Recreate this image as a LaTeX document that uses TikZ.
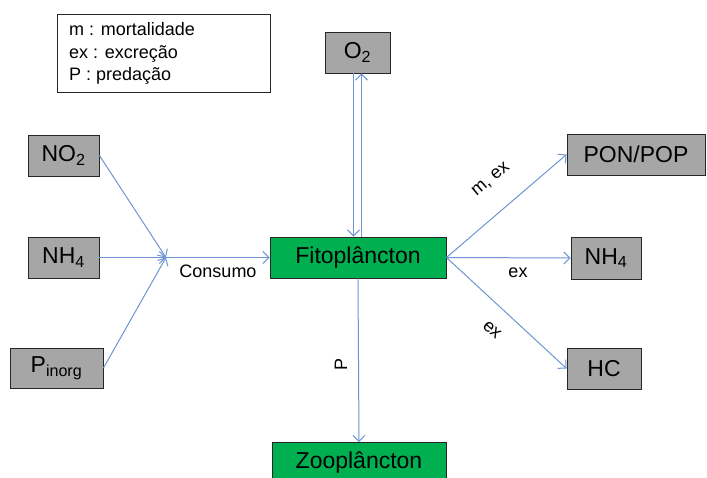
\documentclass[tikz,border=0pt]{standalone}
\usepackage{fontspec}
\setmainfont{Liberation Sans}
\usetikzlibrary{arrows.meta}
\definecolor{boxgray}{RGB}{166,166,166}
\definecolor{boxgreen}{RGB}{0,176,80}
\definecolor{flowblue}{RGB}{110,150,210}
\begin{document}
\begin{tikzpicture}[x=1pt,y=-1pt,
  box/.style={draw=black!85, line width=0.9pt, minimum height=41pt, inner sep=0pt, font=\fontsize{23}{27}\selectfont},
  graybox/.style={box, fill=boxgray},
  greenbox/.style={box, fill=boxgreen},
  flow/.style={draw=flowblue, line width=1pt, -{Straight Barb[length=6pt,width=12pt]}},
  lbl/.style={inner sep=0pt, font=\fontsize{18}{21}\selectfont},
]
\useasboundingbox (0,0) rectangle (707,478);
\fill[white] (0,0) rectangle (707,478);

% legend
\node[draw=black!85, line width=0.9pt, minimum width=213pt, minimum height=78pt, anchor=north west, inner sep=0pt] (legend) at (57,14) {};
\node[lbl, anchor=base west] (leg1) at (69,36) {m : mortalidade};
\node[lbl, anchor=base west] (leg2) at (69,58.5) {ex : excreção};
\node[lbl, anchor=base west] (leg3) at (69,81) {P : predação};

% boxes
\node[graybox, minimum width=65pt] (O2) at (357.5,52.5) {O\textsubscript{2}};
\node[graybox, minimum width=71pt] (NO2) at (63.5,155.5) {NO\textsubscript{2}};
\node[graybox, minimum width=71pt] (NH4L) at (63.5,257.5) {NH\textsubscript{4}};
\node[graybox, minimum width=93pt, minimum height=40pt] (Pinorg) at (56.5,368) {P\textsubscript{inorg}};
\node[greenbox, minimum width=176pt] (Fito) at (358,257.5) {Fitoplâncton};
\node[greenbox, minimum width=174pt] (Zoo) at (359,463) {Zooplâncton};
\node[graybox, minimum width=138pt] (PON) at (636,154.5) {PON/POP};
\node[graybox, minimum width=70pt, minimum height=42pt] (NH4R) at (606,258) {NH\textsubscript{4}};
\node[graybox, minimum width=74pt] (HC) at (604,368.5) {HC};

% consumption
\coordinate (J) at (166,257.5);
\draw[flow] (NO2.east) -- (J);
\draw[flow] (NH4L.east) -- (J);
\draw[flow] (Pinorg.east) -- (J);
\draw[flow] (J) -- (Fito.west);
\node[lbl] (consumo) at (218,271) {Consumo};

% oxygen
\draw[flow] ([xshift=-4pt]O2.south) -- ([xshift=-4pt]O2.south |- Fito.north);
\draw[flow] ([xshift=4pt]O2.south |- Fito.north) -- ([xshift=4pt]O2.south);

% predation
\draw[flow] (Fito.south) -- (Zoo.north);
\node[lbl, rotate=90] (plbl) at (341,364) {P};

% excretion
\draw[flow] (Fito.east) -- (PON.west);
\draw[flow] (Fito.east) -- (NH4R.west);
\draw[flow] (Fito.east) -- (HC.west);
\node[lbl, rotate=40] (mex) at (491,180) {m, ex};
\node[lbl] (ex1) at (518,273) {ex};
\node[lbl, rotate=-42] (ex2) at (492,330) {ex};
\end{tikzpicture}
\end{document}
